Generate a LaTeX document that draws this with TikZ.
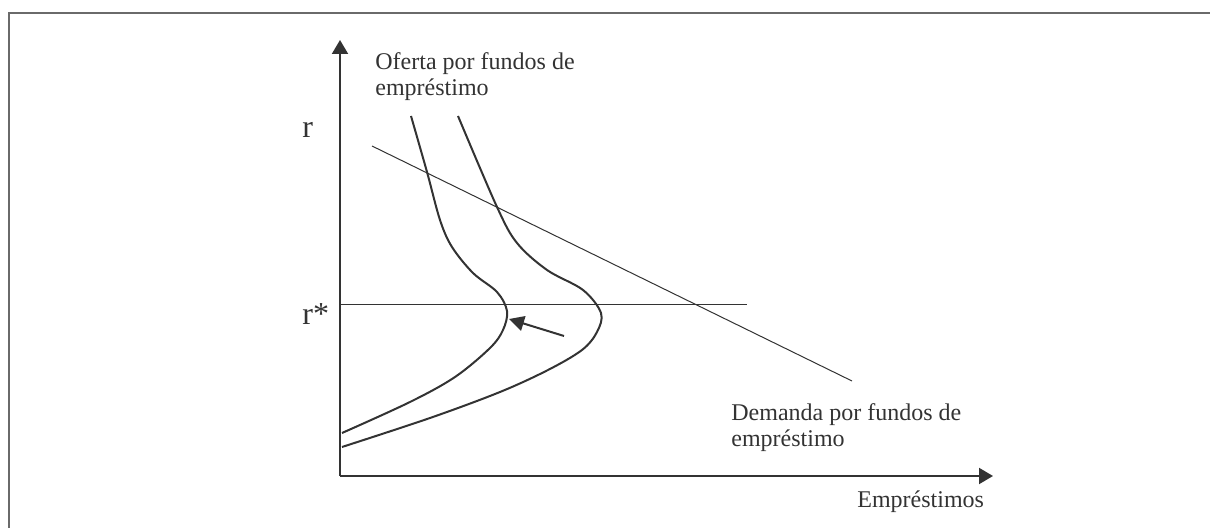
\documentclass[tikz,border=0pt]{standalone}
\usepackage{fontspec}
\setmainfont{Liberation Serif}
\usetikzlibrary{arrows.meta}
\definecolor{ink}{HTML}{333333}
\definecolor{framegray}{HTML}{6A6A6A}
\tikzset{
  axisline/.style={draw=ink, line width=1pt, -{Triangle[width=8pt,length=7pt]}},
  curveline/.style={draw=ink, line width=1pt},
  thinline/.style={draw=ink, line width=0.5pt},
  shiftarrow/.style={draw=ink, line width=1pt, -{Triangle[width=7.5pt,length=7.5pt]}},
  lbl/.style={text=ink, inner sep=0pt, font=\fontsize{12}{13}\selectfont},
  biglbl/.style={text=ink, inner sep=0pt, font=\fontsize{16}{18}\selectfont}
}
\begin{document}
\begin{tikzpicture}[x=0.5pt,y=-0.5pt]
\useasboundingbox (0,0) rectangle (1210,528);
% frame
\draw[framegray, line width=1pt] (9,528) -- (9,13) -- (1210,13);
% axes
\coordinate (O) at (340,476);
\coordinate (ytop) at (340,40);
\coordinate (xend) at (993,476);
\draw[axisline] (O) -- (ytop);
\draw[axisline] (O) -- (xend);
% r* line
\coordinate (rsL) at (340,305);
\coordinate (rsR) at (747,305);
\draw[thinline] (rsL) -- (rsR);
% demand
\coordinate (dA) at (372,146);
\coordinate (dB) at (852,381);
\draw[thinline] (dA) -- (dB);
% supply curves
\draw[curveline] plot[smooth, tension=0.55] coordinates {(411,116) (427,172) (440,220) (452,247) (473,273) (497,292) (507,311) (503,330) (490,348) (455,377) (410,402) (342,433)};
\draw[curveline] plot[smooth, tension=0.55] coordinates {(458,116) (497,207) (517,243) (547,270) (583,290) (601,313) (597,332) (582,350) (548,370) (500,392) (430,418) (342,447)};
% shift arrow
\coordinate (arS) at (564,336);
\coordinate (arE) at (509,319);
\draw[shiftarrow] (arS) -- (arE);
% labels
\node[biglbl, anchor=base west] (r) at (302,138) {r};
\node[biglbl, anchor=base west] (rstar) at (302,325) {r*};
\node[lbl, anchor=base west, align=left] (of) at (375,96) {Oferta por fundos de\\empréstimo};
\node[lbl, anchor=base west, align=left] (de) at (731,447) {Demanda por fundos de\\empréstimo};
\node[lbl, anchor=base west] (em) at (857,508) {Empréstimos};
\end{tikzpicture}
\end{document}
